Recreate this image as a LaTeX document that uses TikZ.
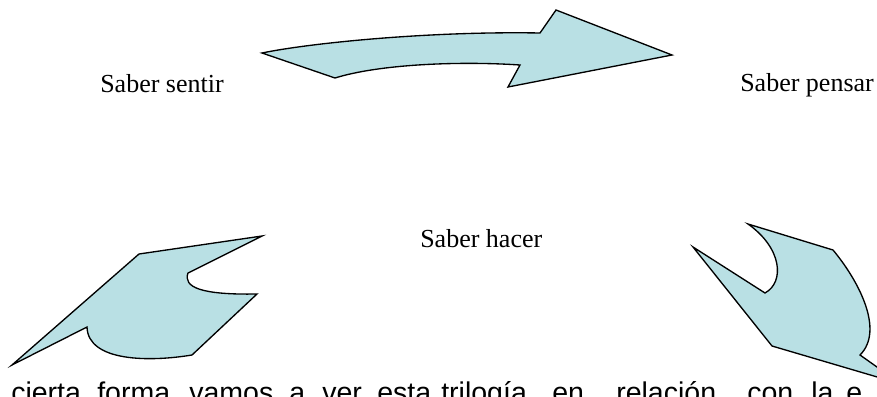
\documentclass[tikz,border=0pt]{standalone}
\usepackage{fontspec}
\setmainfont{Liberation Serif}
\setsansfont{Liberation Sans}
\definecolor{arrowFill}{RGB}{185,224,228}

\begin{document}
\begin{tikzpicture}
[shapeDecorate/.style={draw=black,fill=arrowFill,line width=1pt,line join=miter},%
  labelDecorate/.style={anchor=base west,inner sep=0pt,font=\fontsize{19.5}{23}\selectfont},
  wordDecorate/.style={anchor=base west,inner sep=0pt,font=\sffamily\fontsize{21.4}{25}\selectfont},
  x=0.75pt,y=-0.75pt]
\useasboundingbox (0,0) rectangle (877,396);
\clip (0,0) rectangle (877,396);
%% arrows
\filldraw[shapeDecorate] (262,53) .. controls (310,43) and (430,31) .. (540,33)
  -- (556,10) -- (672,55) -- (508,87) -- (520,65)
  .. controls (460,61) and (380,64) .. (335,78) -- cycle;
\filldraw[shapeDecorate] (12,365) -- (139,254) -- (262,236) -- (188,273)
  .. controls (183,287) and (200,295) .. (257,294) -- (192,355)
  .. controls (150,362) and (88,362) .. (87,327) -- cycle;
\filldraw[shapeDecorate] (693,247) -- (765,293)
  .. controls (785,282) and (782,248) .. (748,224) -- (833,250)
  .. controls (858,280) and (885,330) .. (860,355) -- (901,384) -- (772,346) -- cycle;
%% labels
\foreach \nodename/\x/\y/\labeltext in {
  sentir/100/92/Saber sentir,
  pensar/740/91/Saber pensar,
  hacer/420/247/Saber hacer}
{
  \node (\nodename) at (\x,\y) [labelDecorate] {\labeltext};
}
%% text line
\foreach \nodename/\x/\labeltext in {
  w1/11/cierta, w2/97/forma, w3/189/vamos, w4/289/a, w5/322/ver, w6/377/esta,
  w7/441/trilogía, w8/552/en, w9/616/relación, w10/747/con, w11/811/la, w12/846/e}
{
  \node (\nodename) at (\x,402) [wordDecorate] {\labeltext};
}
\end{tikzpicture}
\end{document}
